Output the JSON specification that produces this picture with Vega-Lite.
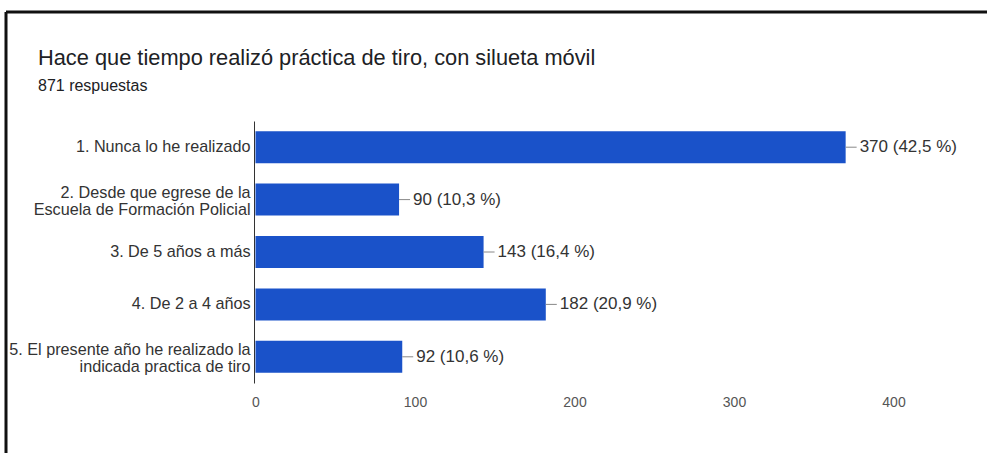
{
  "$schema": "https://vega.github.io/schema/vega-lite/v6.json",
  "autosize": "none",
  "padding": {"left": 6, "top": 12, "right": 0, "bottom": 0},
  "width": 981,
  "height": 441,
  "background": "white",
  "config": {
    "view": {"stroke": "#111111", "strokeWidth": 3, "strokeDash": [981, 1422, 441, 0]},
    "font": "Liberation Sans"
  },
  "title": {
    "text": "Hace que tiempo realizó práctica de tiro, con silueta móvil",
    "subtitle": "871 respuestas",
    "anchor": "start",
    "frame": "group",
    "orient": "top",
    "offset": -82,
    "dx": 32,
    "font": "Liberation Sans",
    "fontSize": 21.8,
    "fontWeight": "normal",
    "color": "#202124",
    "subtitleFont": "Liberation Sans",
    "subtitleFontSize": 16,
    "subtitleColor": "#202124",
    "subtitlePadding": 8
  },
  "data": {
    "values": [
      {"cat": "1. Nunca lo he realizado", "n": 370, "label": "370 (42,5 %)"},
      {"cat": "2. Desde que egrese de la|Escuela de Formación Policial", "n": 90, "label": "90 (10,3 %)"},
      {"cat": "3. De 5 años a más", "n": 143, "label": "143 (16,4 %)"},
      {"cat": "4. De 2 a 4 años", "n": 182, "label": "182 (20,9 %)"},
      {"cat": "5. El presente año he realizado la|indicada practica de tiro", "n": 92, "label": "92 (10,6 %)"}
    ]
  },
  "encoding": {
    "y": {
      "field": "cat",
      "type": "nominal",
      "sort": null,
      "title": null,
      "scale": {"range": [109, 371], "paddingInner": 0.39, "paddingOuter": 0.195},
      "axis": {
        "orient": "left",
        "offset": -248,
        "ticks": false,
        "domain": true,
        "domainColor": "#333333",
        "domainWidth": 1,
        "labelPadding": 4,
        "labelFontSize": 16.2,
        "labelColor": "#333333",
        "labelLimit": 400,
        "labelLineHeight": 17,
        "labelOffset": {"condition": {"test": "indexof(datum.value, '|') >= 0", "value": -7}, "value": 0},
        "labelExpr": "split(datum.label, '|')"
      }
    }
  },
  "layer": [
    {
      "mark": {"type": "bar", "color": "#1a52c9"},
      "encoding": {
        "x": {
          "field": "n",
          "type": "quantitative",
          "title": null,
          "scale": {"domain": [0, 400], "range": [249.5, 887.5], "nice": false, "zero": true},
          "axis": {
            "orient": "bottom",
            "offset": -61,
            "values": [0, 100, 200, 300, 400],
            "domain": false,
            "ticks": false,
            "grid": false,
            "labelFlush": false,
            "labelPadding": 3,
            "labelFontSize": 14,
            "labelColor": "#555555"
          }
        }
      }
    },
    {
      "mark": {"type": "rule", "color": "#888888", "strokeWidth": 1, "x2Offset": 11},
      "encoding": {
        "x": {"field": "n", "type": "quantitative"},
        "x2": {"field": "n"}
      }
    },
    {
      "mark": {"type": "text", "align": "left", "baseline": "middle", "dx": 14, "fontSize": 17, "color": "#333333"},
      "encoding": {
        "x": {"field": "n", "type": "quantitative"},
        "text": {"field": "label"}
      }
    }
  ]
}
